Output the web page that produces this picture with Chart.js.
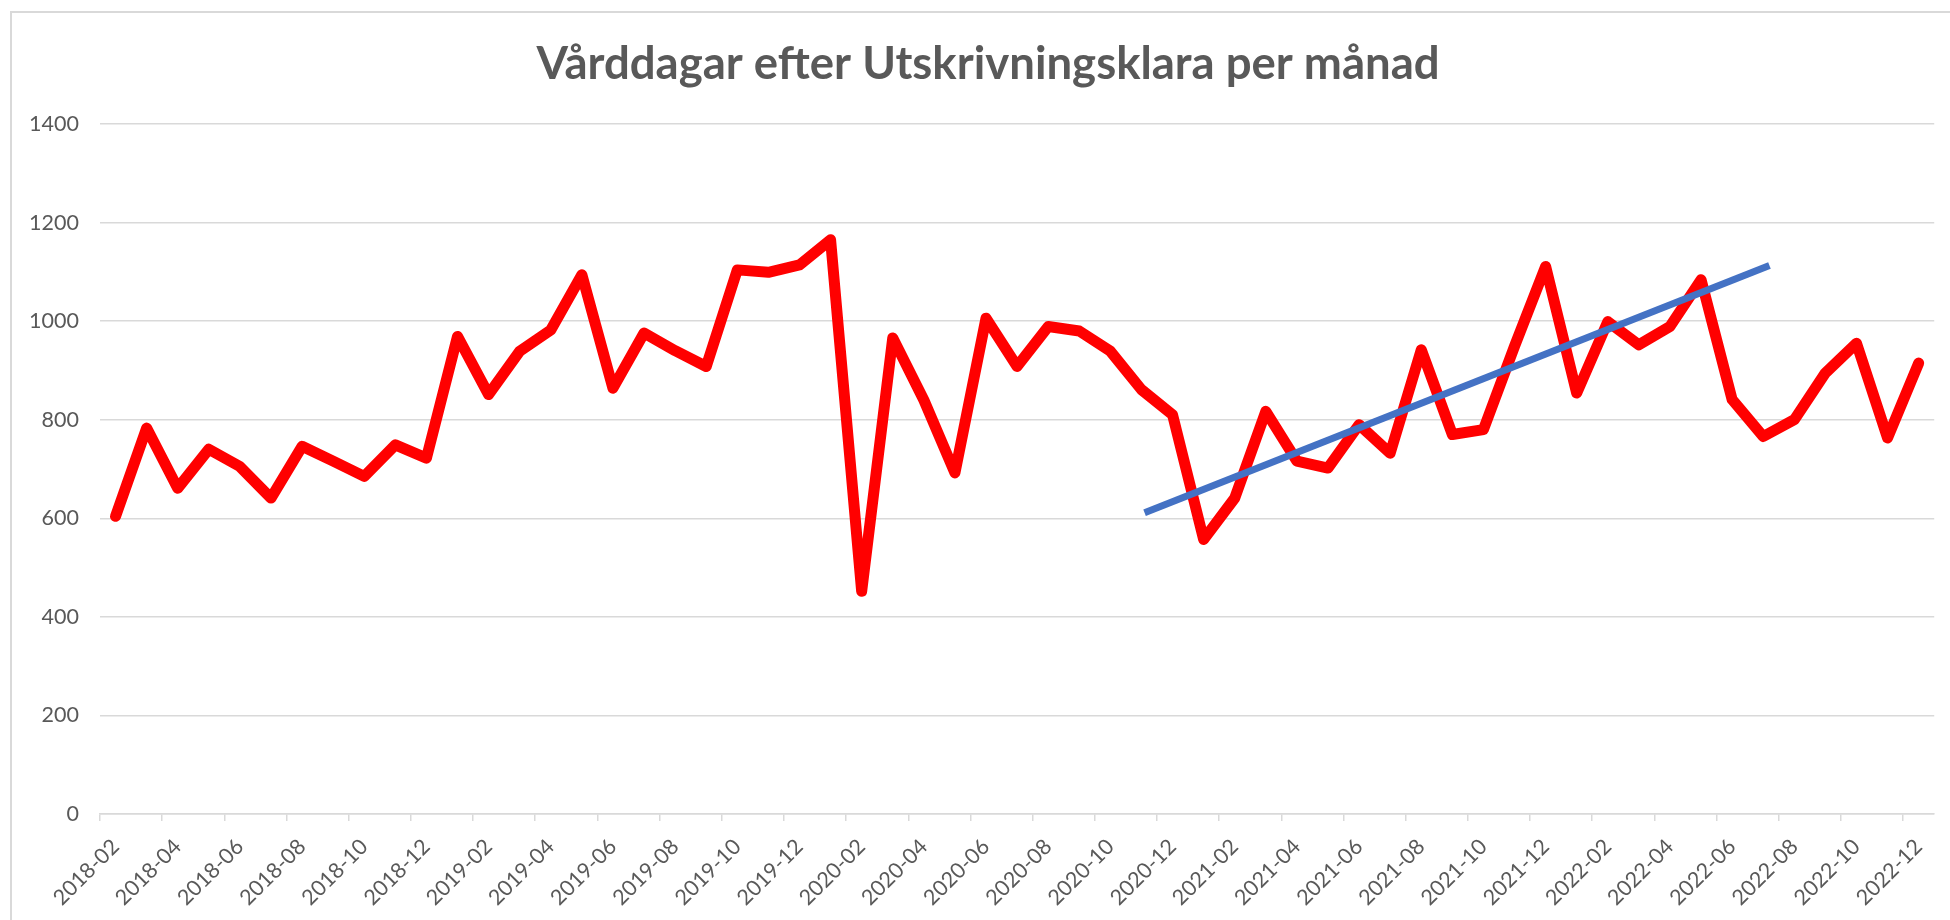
<!DOCTYPE html>
<html>
<head>
<meta charset="utf-8">
<script src="https://cdn.jsdelivr.net/npm/chart.js@4.4.0/dist/chart.umd.min.js"></script>
<style>
  html, body { margin: 0; padding: 0; background: #fff; overflow: hidden; }
  #frame { position: absolute; left: 10px; top: 11px; width: 2000px; height: 1000px;
           border: 2px solid #d9d9d9; box-sizing: border-box; }
  #chart { position: absolute; left: 0; top: 0; }
</style>
</head>
<body>
<div id="frame"></div>
<canvas id="chart" width="1950" height="920"></canvas>
<script>
// Månader (kategorier)
const months = [
    '2018-02', '2018-03', '2018-04', '2018-05', '2018-06', '2018-07', '2018-08', '2018-09', '2018-10', '2018-11', '2018-12',
    '2019-01', '2019-02', '2019-03', '2019-04', '2019-05', '2019-06', '2019-07', '2019-08', '2019-09', '2019-10', '2019-11', '2019-12',
    '2020-01', '2020-02', '2020-03', '2020-04', '2020-05', '2020-06', '2020-07', '2020-08', '2020-09', '2020-10', '2020-11', '2020-12',
    '2021-01', '2021-02', '2021-03', '2021-04', '2021-05', '2021-06', '2021-07', '2021-08', '2021-09', '2021-10', '2021-11', '2021-12',
    '2022-01', '2022-02', '2022-03', '2022-04', '2022-05', '2022-06', '2022-07', '2022-08', '2022-09', '2022-10', '2022-11', '2022-12'
];

// Vårddagar per månad
const vardagar = [
    604, 783, 661, 740, 705, 641, 746, 716, 685, 749, 722,
    969, 851, 939, 982, 1094, 864, 976, 940, 908, 1104, 1099, 1114,
    1165, 452, 966, 840, 692, 1006, 908, 989, 980, 939, 861, 810,
    557, 641, 817, 716, 702, 790, 732, 942, 770, 780, 949, 1111,
    854, 999, 952, 989, 1084, 841, 766, 800, 895, 955, 763, 915
];

// Trendlinje: start- och slutpunkt (kategoriindex, värde)
const trendPos = [33.1, 53.2];
const trendVal = [611, 1113];

const titleText = 'Vårddagar efter Utskrivningsklara per månad';
const textGray = '#595959';
const gridGray = '#d9d9d9';

// the original frame runs past the right edge, so its title sits a bit right of the canvas centre
const titleShift = {
    id: 'titleShift',
    afterLayout(chart) {
        if (chart.titleBlock) chart.titleBlock.left += 36;
    }
};

const ctx = document.getElementById('chart').getContext('2d');

new Chart(ctx, {
    type: 'line',
    data: {
        labels: months,
        datasets: [
            {
                label: 'Trend',
                data: trendPos.map((x, i) => ({ x: x, y: trendVal[i] })),
                xAxisID: 'xt',
                yAxisID: 'y',
                borderColor: '#4472c4',
                borderWidth: 7,
                borderCapStyle: 'butt',
                pointRadius: 0,
                order: 0
            },
            {
                label: 'Vårddagar',
                data: vardagar,
                xAxisID: 'x',
                yAxisID: 'y',
                borderColor: '#ff0000',
                borderWidth: 11,
                borderJoinStyle: 'round',
                borderCapStyle: 'round',
                pointRadius: 0,
                tension: 0,
                order: 1
            }
        ]
    },
    plugins: [titleShift],
    options: {
        responsive: false,
        animation: false,
        layout: { padding: { left: 0, right: 10, top: 0, bottom: 0 } },
        plugins: {
            legend: { display: false },
            tooltip: { enabled: false },
            title: {
                display: true,
                text: titleText,
                color: textGray,
                font: { family: 'Lato', size: 45.5, weight: 'bold' },
                padding: { top: 36.7, bottom: 32.7 }
            }
        },
        scales: {
            x: {
                type: 'category',
                offset: true,
                grid: {
                    offset: true,
                    drawOnChartArea: false,
                    drawTicks: true,
                    tickLength: 7,
                    lineWidth: 1.5,
                    color: (c) => (c.index % 2 === 0 ? gridGray : 'rgba(0,0,0,0)')
                },
                border: { color: gridGray, width: 1.5 },
                ticks: {
                    autoSkip: false,
                    minRotation: 45,
                    maxRotation: 45,
                    padding: 13,
                    color: textGray,
                    font: { family: 'Lato', size: 21.5 },
                    callback: function (val, idx) {
                        return idx % 2 === 0 ? this.getLabelForValue(val) : '';
                    }
                },
                afterFit: (scale) => { scale.height = 106; }
            },
            xt: {
                type: 'linear',
                display: false,
                min: -0.5,
                max: 58.5
            },
            y: {
                min: 0,
                max: 1400,
                ticks: {
                    stepSize: 200,
                    padding: 21,
                    color: textGray,
                    font: { family: 'Lato', size: 21.5 },
                    callback: (val) => String(val)
                },
                grid: { color: gridGray, lineWidth: 1.5, drawTicks: false },
                border: { display: false },
                afterFit: (scale) => { scale.width = 100; }
            }
        }
    }
});
</script>
</body>
</html>
